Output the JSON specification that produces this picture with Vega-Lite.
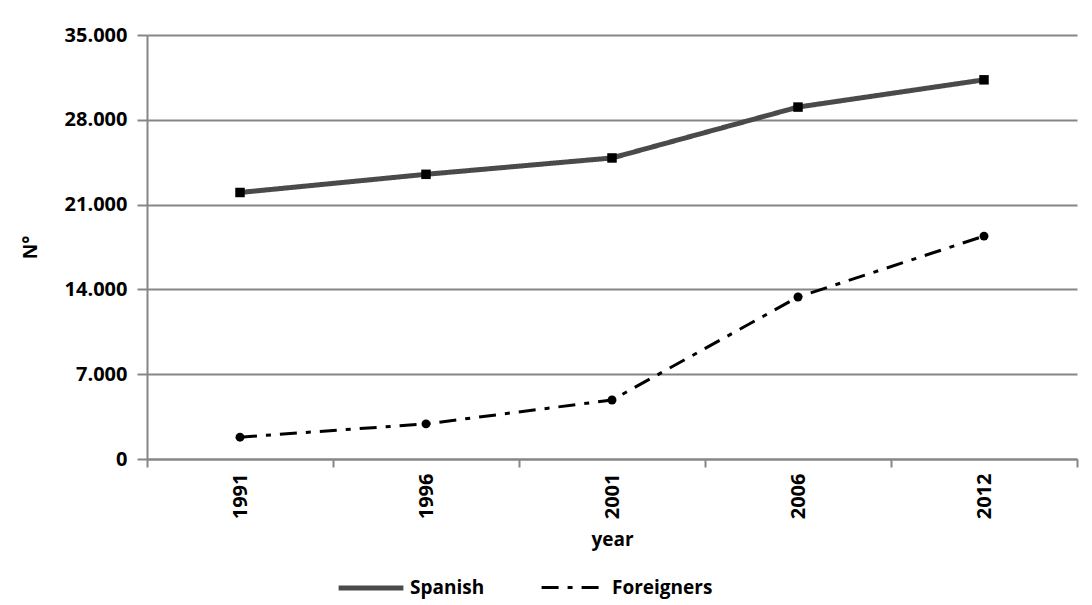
{
  "$schema": "https://vega.github.io/schema/vega-lite/v6.json",
  "width": 930,
  "height": 424,
  "autosize": "none",
  "padding": {"left": 147, "top": 35, "right": 15, "bottom": 146},
  "background": "white",
  "config": {
    "font": "Open Sans",
    "view": {"stroke": null},
    "axis": {"labelFont": "Open Sans", "titleFont": "Open Sans", "labelFontWeight": "bold", "titleFontWeight": "bold", "labelColor": "#000", "titleColor": "#000", "domainColor": "#868686", "tickColor": "#868686", "gridColor": "#868686"}
  },
  "data": {
    "values": [
      {"year": "1991", "series": "Spanish", "value": 22000},
      {"year": "1996", "series": "Spanish", "value": 23500},
      {"year": "2001", "series": "Spanish", "value": 24850},
      {"year": "2006", "series": "Spanish", "value": 29050},
      {"year": "2012", "series": "Spanish", "value": 31300},
      {"year": "1991", "series": "Foreigners", "value": 1800},
      {"year": "1996", "series": "Foreigners", "value": 2900},
      {"year": "2001", "series": "Foreigners", "value": 4870},
      {"year": "2006", "series": "Foreigners", "value": 13370},
      {"year": "2012", "series": "Foreigners", "value": 18400}
    ]
  },
  "encoding": {
    "x": {
      "field": "year", "type": "ordinal",
      "scale": {"type": "band", "paddingInner": 0, "paddingOuter": 0},
      "axis": {"title": "year", "labelAngle": -90, "labelFontSize": 20, "titleFontSize": 19, "tickBand": "extent", "tickSize": 8, "labelPadding": 6, "titlePadding": 12, "domainWidth": 2, "tickWidth": 2, "labelBaseline": "middle", "labelAlign": "right"}
    },
    "y": {
      "field": "value", "type": "quantitative",
      "scale": {"domain": [0, 35000], "nice": false},
      "axis": {"title": "N°", "values": [0, 7000, 14000, 21000, 28000, 35000], "labelExpr": "replace(format(datum.value, ','), ',', '.')", "labelFontSize": 20, "titleFontSize": 19, "tickSize": 10, "labelPadding": 10, "titlePadding": 24, "domainWidth": 2, "tickWidth": 2, "gridWidth": 2}
    }
  },
  "layer": [
    {
      "mark": {"type": "line"},
      "encoding": {
        "color": {"field": "series", "type": "nominal", "scale": {"domain": ["Spanish", "Foreigners"], "range": ["#4a4a4a", "#000000"]}, "legend": {"title": null, "orient": "none", "legendX": 189, "legendY": 518, "direction": "horizontal", "labelFontSize": 19, "labelFontWeight": "bold", "labelFont": "Open Sans", "labelColor": "#000", "symbolSize": 4200, "symbolType": "stroke", "symbolStrokeWidth": 4, "columnPadding": 50, "labelOffset": 4}},
        "strokeDash": {"field": "series", "type": "nominal", "scale": {"domain": ["Spanish", "Foreigners"], "range": [[1, 0], [17, 9, 5, 9]]}, "legend": {"title": null, "orient": "none", "legendX": 189, "legendY": 518, "direction": "horizontal", "labelFontSize": 19, "labelFontWeight": "bold", "labelFont": "Open Sans", "labelColor": "#000", "symbolSize": 4200, "symbolType": "stroke", "symbolStrokeWidth": 4, "columnPadding": 50, "labelOffset": 4}},
        "strokeWidth": {"field": "series", "type": "nominal", "scale": {"domain": ["Spanish", "Foreigners"], "range": [5, 3]}, "legend": null}
      }
    },
    {
      "transform": [{"filter": "datum.series === 'Spanish'"}],
      "mark": {"type": "point", "filled": true, "opacity": 1, "color": "#000", "shape": "square", "size": 90}
    },
    {
      "transform": [{"filter": "datum.series === 'Foreigners'"}],
      "mark": {"type": "point", "filled": true, "opacity": 1, "color": "#000", "shape": "circle", "size": 80}
    }
  ]
}
